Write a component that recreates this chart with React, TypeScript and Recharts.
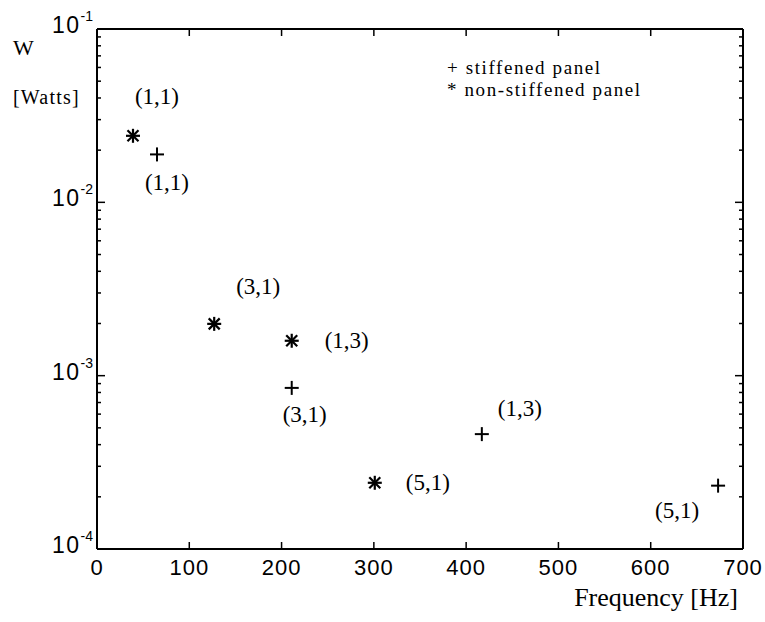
import { ScatterChart, Scatter, XAxis, YAxis } from 'recharts'

const frequencyTicks = [0, 100, 200, 300, 400, 500, 600, 700]
const powerDecades = [1e-4, 1e-3, 1e-2, 1e-1]
const powerTicks = powerDecades.slice(0, 3).flatMap(d => [1, 2, 3, 4, 5, 6, 7, 8, 9].map(m => m * d)).concat([1e-1])

const stiffenedFreq = [65, 211, 417, 673]
const stiffenedPower = [0.0189, 0.00085, 0.00046, 0.000232]
const stiffenedModes = ['(1,1)', '(3,1)', '(1,3)', '(5,1)']

const plainFreq = [39, 127, 211, 301]
const plainPower = [0.0242, 0.00199, 0.00159, 0.000241]
const plainModes = ['(1,1)', '(3,1)', '(1,3)', '(5,1)']

// where each mode label sits relative to its marker
const stiffenedLabelShift = [[10, 28], [13, 27], [38, -26], [-41, 25]]
const plainLabelShift = [[24, -39], [44, -37], [55, 0], [53, 0]]

const stiffened = stiffenedFreq.map((f, i) => ({ f, w: stiffenedPower[i], mode: stiffenedModes[i], shift: stiffenedLabelShift[i] }))
const plain = plainFreq.map((f, i) => ({ f, w: plainPower[i], mode: plainModes[i], shift: plainLabelShift[i] }))

const serif = { fontFamily: "'Liberation Serif', 'Times New Roman', serif" }
const sans = { fontFamily: "'Liberation Sans', Arial, sans-serif" }

const isMajor = (v: number) => powerDecades.some(d => Math.abs(v / d - 1) < 1e-6)

function ModeLabel({ cx, cy, payload }: any) {
  return (
    <text x={cx + payload.shift[0]} y={cy + payload.shift[1]} textAnchor="middle" dominantBaseline="central"
      style={serif} fontSize={23} fill="#000">{payload.mode}</text>
  )
}

function PlusMark(props: any) {
  const { cx, cy } = props
  return (
    <g>
      <line x1={cx - 7} y1={cy} x2={cx + 7} y2={cy} stroke="#000" strokeWidth={2} />
      <line x1={cx} y1={cy - 7} x2={cx} y2={cy + 7} stroke="#000" strokeWidth={2} />
      <ModeLabel {...props} />
    </g>
  )
}

function StarMark(props: any) {
  const { cx, cy } = props
  const r = 7, d = 5.5
  return (
    <g>
      <line x1={cx - r} y1={cy} x2={cx + r} y2={cy} stroke="#000" strokeWidth={2.2} />
      <line x1={cx} y1={cy - r} x2={cx} y2={cy + r} stroke="#000" strokeWidth={2.2} />
      <line x1={cx - d} y1={cy - d} x2={cx + d} y2={cy + d} stroke="#000" strokeWidth={2.2} />
      <line x1={cx - d} y1={cy + d} x2={cx + d} y2={cy - d} stroke="#000" strokeWidth={2.2} />
      <ModeLabel {...props} />
    </g>
  )
}

function BottomTick({ x, y, payload }: any) {
  const v = payload.value
  const edge = v === 0 || v === 700
  return (
    <g>
      {!edge && <line x1={x} y1={y} x2={x} y2={y - 7} stroke="#000" strokeWidth={1.5} />}
      <text x={x} y={y + 18} textAnchor="middle" dominantBaseline="central" style={sans} fontSize={22} letterSpacing={1}>{v}</text>
    </g>
  )
}

function TopTick({ x, y, payload }: any) {
  const v = payload.value
  if (v === 0 || v === 700) return null
  return <line x1={x} y1={y} x2={x} y2={y + 7} stroke="#000" strokeWidth={1.5} />
}

function LeftTick({ x, y, payload }: any) {
  const v = payload.value
  const major = isMajor(v)
  const exp = Math.round(Math.log10(v))
  return (
    <g>
      <line x1={x} y1={y} x2={x + (major ? 8 : 4)} y2={y} stroke="#000" strokeWidth={1.5} />
      {major && (
        <text x={x - 4} y={y - 4} textAnchor="end" dominantBaseline="central" style={sans}>
          <tspan fontSize={23} letterSpacing={1.5}>10</tspan>
          <tspan fontSize={14} dy={-9}>{exp}</tspan>
        </text>
      )}
    </g>
  )
}

function RightTick({ x, y, payload }: any) {
  const major = isMajor(payload.value)
  return <line x1={x} y1={y} x2={x - (major ? 8 : 4)} y2={y} stroke="#000" strokeWidth={1.5} />
}

export default function App() {
  return (
    <div style={{ position: 'absolute', left: 0, top: 0, width: 765, height: 622, background: '#fff' }}>
      <ScatterChart width={765} height={622} margin={{ top: 20, right: 12, bottom: 33, left: 40 }}>
        <XAxis xAxisId="b" dataKey="f" type="number" domain={[0, 700]} ticks={frequencyTicks} allowDataOverflow
          orientation="bottom" height={40} tickSize={0} tickMargin={0} tick={<BottomTick />}
          axisLine={{ stroke: '#000', strokeWidth: 2 }} tickLine={false} />
        <XAxis xAxisId="t" dataKey="f" type="number" domain={[0, 700]} ticks={frequencyTicks} allowDataOverflow
          orientation="top" height={9} tickSize={0} tickMargin={0} tick={<TopTick />}
          axisLine={{ stroke: '#000', strokeWidth: 2 }} tickLine={false} />
        <YAxis yAxisId="l" dataKey="w" type="number" scale="log" domain={[1e-4, 1e-1]} ticks={powerTicks} allowDataOverflow
          orientation="left" width={57} tickSize={0} tickMargin={0} tick={<LeftTick />} interval={0}
          axisLine={{ stroke: '#000', strokeWidth: 2 }} tickLine={false} />
        <YAxis yAxisId="r" dataKey="w" type="number" scale="log" domain={[1e-4, 1e-1]} ticks={powerTicks} allowDataOverflow
          orientation="right" width={10} tickSize={0} tickMargin={0} tick={<RightTick />} interval={0}
          axisLine={{ stroke: '#000', strokeWidth: 2 }} tickLine={false} />
        <Scatter name="stiffened panel" data={stiffened} xAxisId="b" yAxisId="l" shape={<PlusMark />} isAnimationActive={false} />
        <Scatter name="non-stiffened panel" data={plain} xAxisId="b" yAxisId="l" shape={<StarMark />} isAnimationActive={false} />
        <Scatter data={stiffened} xAxisId="t" yAxisId="r" shape={() => <g />} isAnimationActive={false} />
      </ScatterChart>
      <svg width={765} height={622} style={{ position: 'absolute', left: 0, top: 0, pointerEvents: 'none' }}>
        <text x={13} y={47} style={serif} fontSize={22} dominantBaseline="central">W</text>
        <text x={13} y={97} style={serif} fontSize={20} letterSpacing={1.2} dominantBaseline="central">[Watts]</text>
        <text x={738} y={597} textAnchor="end" style={serif} fontSize={26} dominantBaseline="central">Frequency [Hz]</text>
        <text x={447} y={67} style={serif} fontSize={19} letterSpacing={1.6} dominantBaseline="central">+ stiffened panel</text>
        <text x={447} y={89} style={serif} fontSize={19} letterSpacing={1.6} dominantBaseline="central">* non-stiffened panel</text>
      </svg>
    </div>
  )
}
